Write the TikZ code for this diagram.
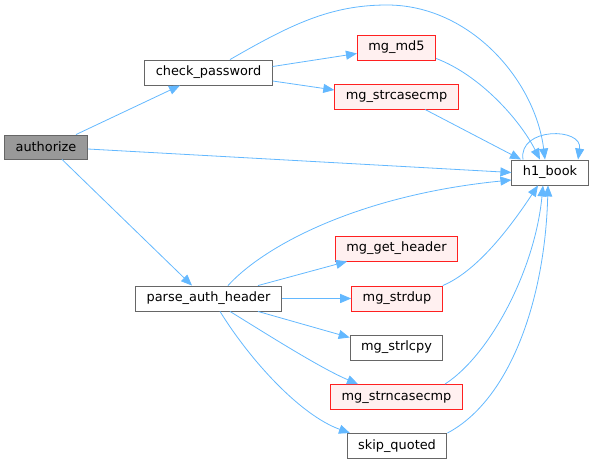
\documentclass[tikz,border=0pt]{standalone}
\usepackage{fontspec}
\setmainfont{DejaVu Sans}
\usetikzlibrary{arrows.meta}

\definecolor{edgeblue}{HTML}{63B8FF}
\definecolor{boxgray}{HTML}{666666}
\definecolor{rootgray}{HTML}{999999}
\definecolor{pinkfill}{HTML}{FFF0F0}
\definecolor{boxred}{HTML}{FF2020}

\tikzset{
    fn/.style={draw=boxgray, fill=white, line width=0.9pt, inner xsep=11pt,
        minimum height=25pt, font=\fontsize{12.9}{15}\selectfont},
    rootfn/.style={fn, fill=rootgray, minimum height=24pt},
    redfn/.style={fn, draw=boxred, fill=pinkfill},
    call/.style={edgeblue, line width=0.8pt, -{Triangle[length=11pt,width=9pt]}}
}

\begin{document}
\begin{tikzpicture}[x=1pt, y=-1pt]
    \useasboundingbox (0,0) rectangle (595,465);

    % Knoten
    \node[rootfn] (auth) at (46,147) {authorize};
    \node[fn] (cp) at (208.5,72.5) {check\_password};
    \node[fn] (pah) at (208.5,298.5) {parse\_auth\_header};
    \node[redfn] (md5) at (396.5,47.5) {mg\_md5};
    \node[redfn] (scc) at (396.5,96.5) {mg\_strcasecmp};
    \node[fn] (h1) at (550,172.5) {h1\_book};
    \node[redfn] (mgh) at (396.5,248.5) {mg\_get\_header};
    \node[redfn] (sdup) at (397,298.5) {mg\_strdup};
    \node[fn] (slcpy) at (396.5,347.5) {mg\_strlcpy};
    \node[redfn] (sncc) at (396.5,397) {mg\_strncasecmp};
    \node[fn] (skq) at (397,446) {skip\_quoted};

    % Aufrufe von authorize
    \draw[call] ([xshift=30pt]auth.north) -- ([xshift=-28.5pt]cp.south);
    \draw[call] ([yshift=-2pt]auth.east) -- (h1.west);
    \draw[call] ([xshift=16pt]auth.south) -- ([xshift=-16.5pt]pah.north);

    % Aufrufe von check_password
    \draw[call] ([yshift=6pt]cp.east) -- ([yshift=-6pt]md5.west);
    \draw[call] ([yshift=-8.5pt]cp.east) -- ([yshift=6.5pt]scc.west);
    \draw[call] ([xshift=21.5pt]cp.north) .. controls (290,25) and (330,5) .. (387,5)
        .. controls (470,5) and (535,80) .. ([xshift=-5pt]h1.north);

    % nach h1_book
    \draw[call] ([yshift=2pt]md5.south east) .. controls (480,75) and (520,120) .. ([xshift=-10pt]h1.north);
    \draw[call] ([xshift=28.5pt]scc.south) -- ([xshift=-29pt]h1.north);
    \draw[call] ([xshift=-27pt]h1.north) .. controls (518,127) and (583,127) .. ([xshift=28pt]h1.north);

    % Aufrufe von parse_auth_header
    \draw[call] ([xshift=19.5pt]pah.north) .. controls (265,245) and (360,195) .. ([yshift=-7.5pt]h1.west);
    \draw[call] ([xshift=49.5pt]pah.north) -- ([xshift=-49.5pt]mgh.south);
    \draw[call] (pah.east) -- (sdup.west);
    \draw[call] ([xshift=49.5pt]pah.south) -- ([yshift=10pt]slcpy.west);
    \draw[call] ([xshift=21.5pt]pah.south) .. controls (265,333) and (320,368) .. ([xshift=-38.5pt]sncc.north);
    \draw[call] ([xshift=11.5pt]pah.south) .. controls (250,360) and (300,415) .. ([xshift=-47pt]skq.north);

    % zurueck nach h1_book
    \draw[call] (sdup.north east) .. controls (480,270) and (515,220) .. ([xshift=-12pt]h1.south);
    \draw[call] ([xshift=48.5pt]sncc.north) .. controls (490,355) and (535,270) .. ([xshift=-7pt]h1.south);
    \draw[call] (skq.north east) .. controls (510,400) and (545,300) .. ([xshift=-2pt]h1.south);
\end{tikzpicture}
\end{document}
